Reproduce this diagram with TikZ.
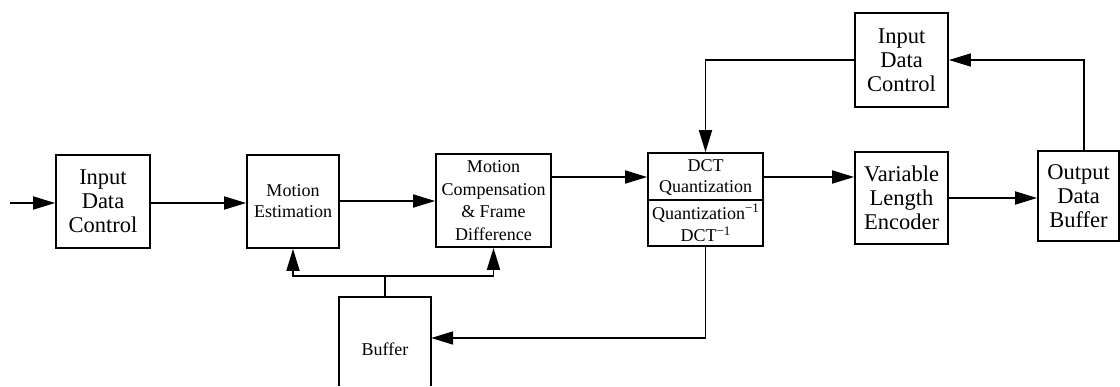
\documentclass[tikz,border=0pt]{standalone}
\usepackage{fontspec}
\setmainfont{Liberation Serif}
\usetikzlibrary{arrows.meta}
\newcommand{\invsup}{\raisebox{6.5pt}{\fontsize{13}{13}\selectfont −1}}
\begin{document}
\begin{tikzpicture}[x=1pt,y=-1pt,
 blk/.style={draw,line width=1.8pt,inner sep=0pt,align=center},
 big/.style={font=\fontsize{22.5}{24}\selectfont},
 small/.style={font=\fontsize{18}{22.5}\selectfont},
 conn/.style={line width=1.8pt,-{Triangle[length=22pt,width=13pt]}},
 ln/.style={line width=1.8pt}]
\useasboundingbox (0,0) rectangle (1120,386);
% blocks
\node[blk,big,minimum width=94pt,minimum height=93pt] (idc) at (103,201.5) {Input\\Data\\Control};
\node[blk,minimum width=92pt,minimum height=93pt,font=\fontsize{18}{21}\selectfont] (me) at (293,201.5) {Motion\\Estimation};
\node[blk,small,minimum width=115pt,minimum height=93pt] (mc) at (493.5,200.5) {Motion\\Compensation\\\&\ Frame\\Difference};
\node[blk,minimum width=115pt,minimum height=93pt] (dct) at (705.5,199.5) {};
\draw[line width=1.8pt] (dct.west |- 0,200) -- (dct.east |- 0,200);
\node[align=center,inner sep=0pt,font=\fontsize{18}{21}\selectfont] (dcttop) at (705.5,177) {DCT\\Quantization};
\node[small,align=center,inner sep=0pt] (dctbot) at (705.5,223) {Quantization\invsup\\DCT\invsup};
\node[blk,big,minimum width=93pt,minimum height=92pt] (vle) at (901.5,198) {Variable\\Length\\Encoder};
\node[blk,big,minimum width=81pt,minimum height=90pt] (odb) at (1078.5,196) {Output\\Data\\Buffer};
\node[blk,big,minimum width=93pt,minimum height=94pt] (idc2) at (901.5,60) {Input\\Data\\Control};
\node[inner sep=0pt,minimum width=92pt,minimum height=89pt] (buf) at (385,341.5) {};
\draw[line width=1.8pt] (buf.south west) -- (buf.north west) -- (buf.north east) -- (buf.south east);
\node[small,inner sep=0pt] (buftxt) at (385,349) {Buffer};
% connectors
\coordinate (in) at (10,203);
\coordinate (r1) at (0,177);
\coordinate (r2) at (0,201);
\coordinate (r3) at (0,338);
\coordinate (j) at (385,276);
\draw[conn] (in) -- (in -| idc.west);
\draw[conn] (idc.east |- in) -- (me.west |- in);
\draw[conn] (me.east |- r2) -- (mc.west |- r2);
\draw[conn] (mc.east |- r1) -- (dct.west |- r1);
\draw[conn] (dct.east |- r1) -- (vle.west |- r1);
\draw[conn] (vle.east) -- (vle.east -| odb.west);
\draw[conn] ([xshift=5.5pt]odb.north) |- (idc2.east);
\draw[conn] (idc2.west) -| (dct.north);
\draw[conn] (dct.south) |- (buf.east |- r3);
\draw[ln] (buf.north) -- (j);
\draw[conn] (j) -| (me.south);
\draw[conn] (j) -| (mc.south);
\end{tikzpicture}
\end{document}
